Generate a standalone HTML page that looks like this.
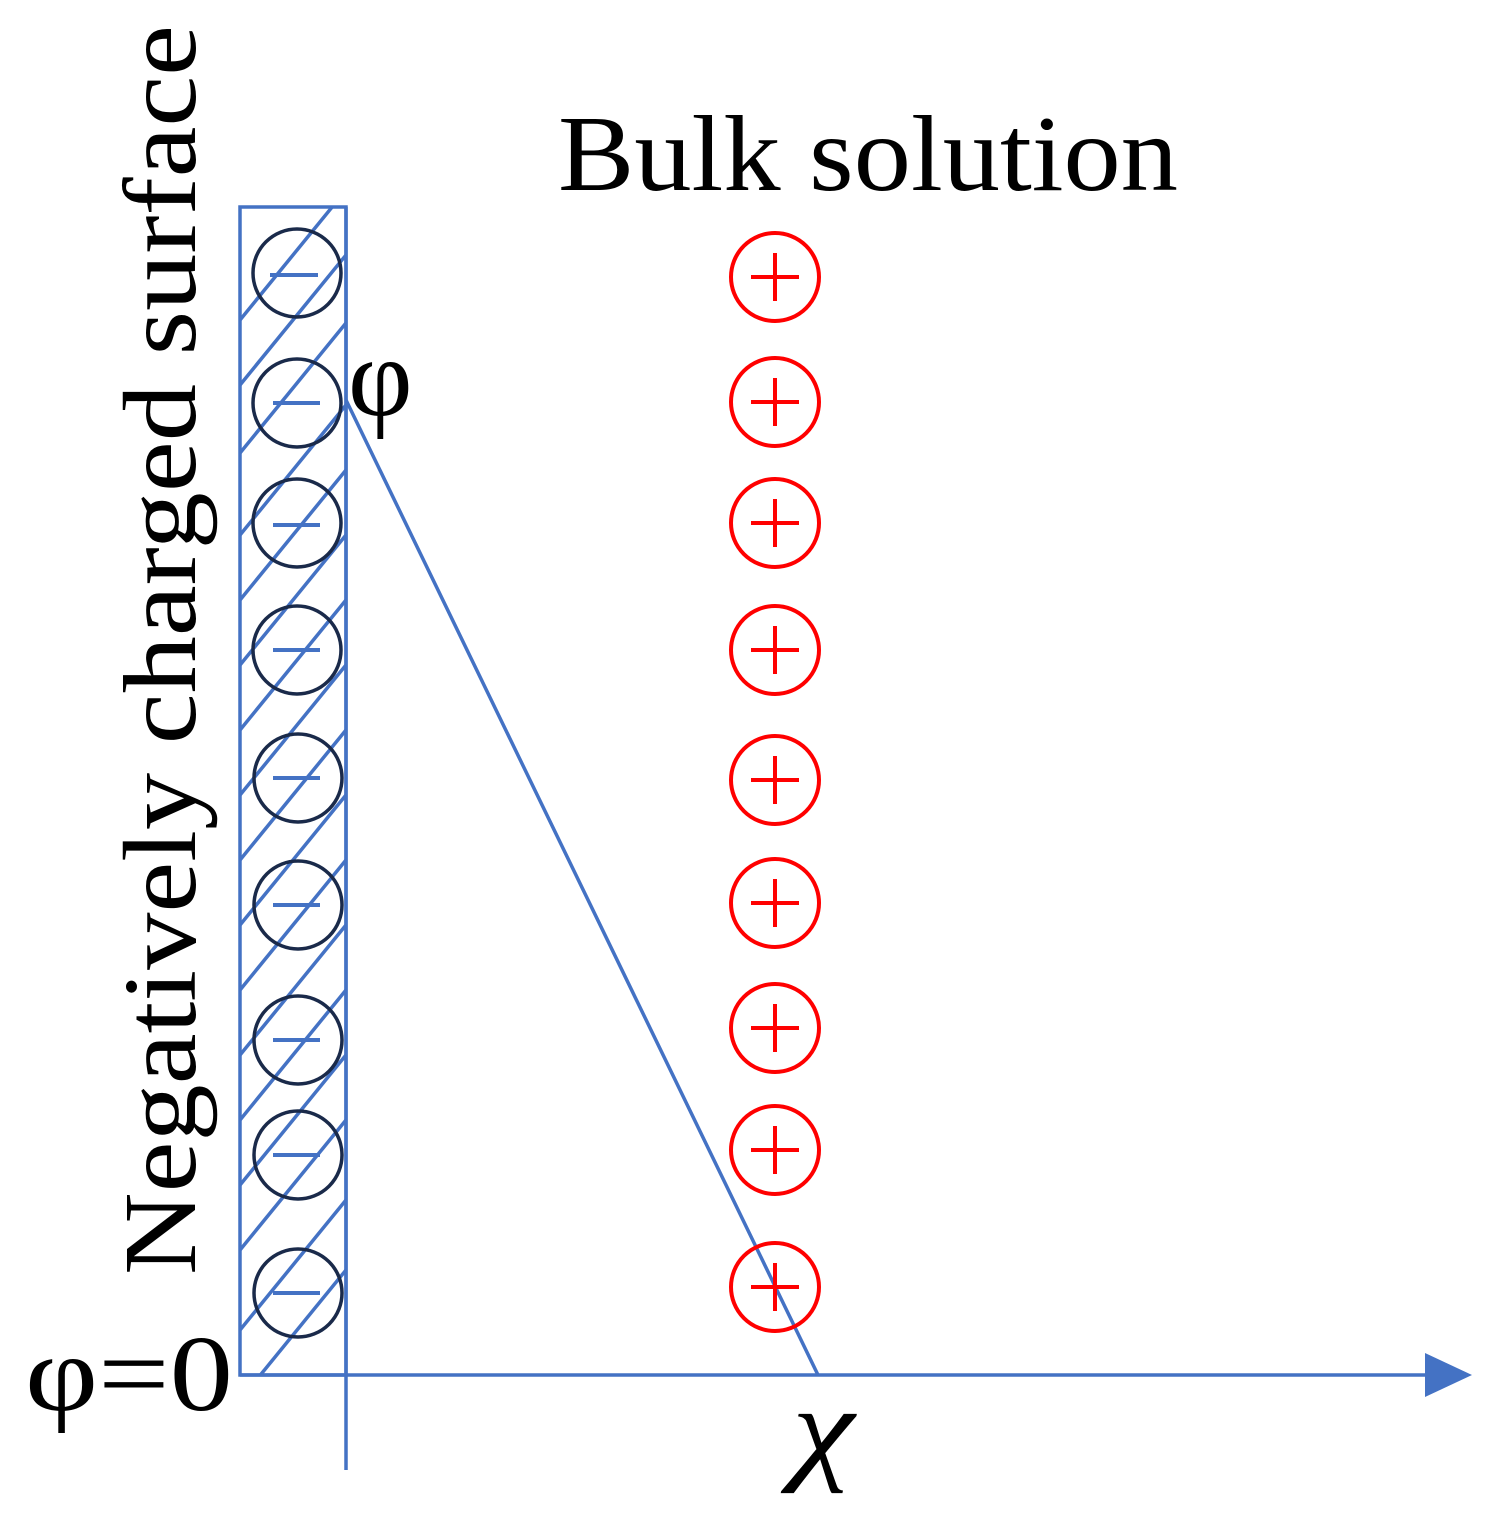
<!DOCTYPE html>
<html><head><meta charset="utf-8"><style>html,body{margin:0;padding:0;background:#fff}svg{display:block}</style></head>
<body>
<svg width="1495" height="1513" viewBox="0 0 1495 1513" xmlns="http://www.w3.org/2000/svg">
<defs><clipPath id="c"><rect x="240" y="207" width="106" height="1168"/></clipPath></defs>
<g stroke="#4472C4" stroke-width="3.5" fill="none">
<g clip-path="url(#c)">
<line x1="240" y1="320" x2="346" y2="190"/>
<line x1="240" y1="385" x2="346" y2="255"/>
<line x1="240" y1="453" x2="346" y2="323"/>
<line x1="240" y1="535" x2="346" y2="405"/>
<line x1="240" y1="600" x2="346" y2="470"/>
<line x1="240" y1="665" x2="346" y2="535"/>
<line x1="240" y1="730" x2="346" y2="600"/>
<line x1="240" y1="795" x2="346" y2="665"/>
<line x1="240" y1="860" x2="346" y2="730"/>
<line x1="240" y1="925" x2="346" y2="795"/>
<line x1="240" y1="990" x2="346" y2="860"/>
<line x1="240" y1="1055" x2="346" y2="925"/>
<line x1="240" y1="1120" x2="346" y2="990"/>
<line x1="240" y1="1185" x2="346" y2="1055"/>
<line x1="240" y1="1250" x2="346" y2="1120"/>
<line x1="240" y1="1330" x2="346" y2="1200"/>
<line x1="240" y1="1400" x2="346" y2="1270"/>
</g>
<rect x="240" y="207" width="106" height="1168"/>
<line x1="346" y1="207" x2="346" y2="1470"/>
<line x1="240" y1="1375" x2="1430" y2="1375"/>
<line x1="346" y1="400" x2="818" y2="1375"/>
</g>
<polygon points="1425,1353 1472,1375 1425,1397" fill="#4472C4"/>
<g fill="none" stroke="#1a2a4a" stroke-width="3.5">
<circle cx="297" cy="273" r="44"/><circle cx="297" cy="403" r="44"/><circle cx="297" cy="523" r="44"/>
<circle cx="297" cy="650" r="44"/><circle cx="298" cy="778" r="44"/><circle cx="298" cy="905" r="44"/>
<circle cx="298" cy="1040" r="44"/><circle cx="298" cy="1155" r="44"/><circle cx="298" cy="1293" r="44"/>
</g>
<g stroke="#4472C4" stroke-width="4">
<line x1="270" y1="275" x2="318" y2="275"/><line x1="273" y1="403" x2="320" y2="403"/><line x1="273" y1="525" x2="320" y2="525"/>
<line x1="273" y1="650" x2="320" y2="650"/><line x1="273" y1="778" x2="320" y2="778"/><line x1="273" y1="905" x2="320" y2="905"/>
<line x1="273" y1="1040" x2="320" y2="1040"/><line x1="273" y1="1155" x2="320" y2="1155"/><line x1="273" y1="1293" x2="320" y2="1293"/>
</g>
<g fill="none" stroke="#ff0000" stroke-width="4">
<circle cx="775" cy="277" r="44"/><circle cx="775" cy="402" r="44"/><circle cx="775" cy="523" r="44"/>
<circle cx="775" cy="650" r="44"/><circle cx="775" cy="780" r="44"/><circle cx="775" cy="903" r="44"/>
<circle cx="775" cy="1028" r="44"/><circle cx="775" cy="1150" r="44"/><circle cx="775" cy="1287" r="44"/>
<path d="M751 277h48M775 253v48M751 402h48M775 378v48M751 523h48M775 499v48M751 650h48M775 626v48M751 780h48M775 756v48M751 903h48M775 879v48M751 1028h48M775 1004v48M751 1150h48M775 1126v48M751 1287h48M775 1263v48"/>
</g>
<g font-family="Liberation Serif, serif" fill="#000">
<text x="558" y="190" font-size="108" textLength="620" lengthAdjust="spacingAndGlyphs">Bulk solution</text>
<text transform="translate(195,1275) rotate(-90)" font-size="104" textLength="1250" lengthAdjust="spacingAndGlyphs">Negatively charged surface</text>
<text x="348" y="415" font-size="112">φ</text>
<text x="25" y="1410" font-size="108" textLength="208" lengthAdjust="spacingAndGlyphs">φ=0</text>
<text x="792" y="1468" font-size="118" font-style="italic" textLength="62" lengthAdjust="spacingAndGlyphs">χ</text>
</g>
</svg>
</body></html>
